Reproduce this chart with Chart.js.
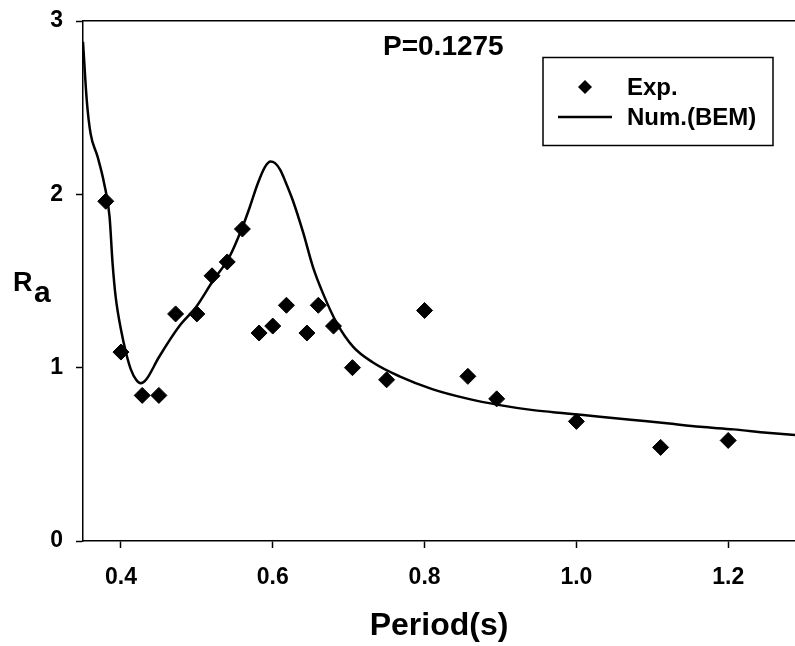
<!DOCTYPE html>
<html>
<head>
<meta charset="utf-8">
<script src="https://cdn.jsdelivr.net/npm/chart.js@4"></script>
<style>
  html, body { margin: 0; padding: 0; background: #fff; }
  #wrap { width: 795px; height: 646px; }
</style>
</head>
<body>
<div id="wrap"><canvas id="chart" width="795" height="646"></canvas></div>
<script>
// measured points (Exp.)
const expPeriod = [0.38, 0.40, 0.428, 0.45, 0.472, 0.50, 0.52, 0.54, 0.56, 0.582, 0.60,
                   0.618, 0.645, 0.66, 0.68, 0.705, 0.75, 0.80, 0.857, 0.895, 1.0, 1.111, 1.2];
const expRa = [1.96, 1.09, 0.84, 0.84, 1.31, 1.31, 1.53, 1.61, 1.80, 1.20, 1.24,
               1.36, 1.20, 1.36, 1.24, 1.00, 0.93, 1.33, 0.95, 0.82, 0.69, 0.54, 0.58];

// BEM curve
const bemPeriod = [0.350, 0.355, 0.360, 0.369, 0.378, 0.385, 0.389, 0.393, 0.400, 0.407,
                   0.413, 0.420, 0.426, 0.433, 0.450, 0.477, 0.499, 0.521, 0.543, 0.560,
                   0.570, 0.580, 0.590, 0.597, 0.603, 0.610, 0.617, 0.626, 0.640, 0.653,
                   0.666, 0.684, 0.706, 0.732, 0.767, 0.811, 0.855, 0.899, 0.943, 0.987,
                   1.031, 1.075, 1.119, 1.163, 1.207, 1.251, 1.288];
const bemRa = [2.88, 2.54, 2.35, 2.22, 2.06, 1.87, 1.60, 1.41, 1.22, 1.08,
               0.99, 0.93, 0.91, 0.93, 1.06, 1.24, 1.35, 1.50, 1.64, 1.81,
               1.93, 2.06, 2.16, 2.19, 2.18, 2.14, 2.07, 1.97, 1.78, 1.58,
               1.43, 1.26, 1.12, 1.03, 0.95, 0.875, 0.823, 0.784, 0.755, 0.736,
               0.717, 0.698, 0.679, 0.659, 0.644, 0.625, 0.611];

const xTicks = [0.4, 0.6, 0.8, 1.0, 1.2];
const yTicks = [0, 1, 2, 3];

const FONT = "'Liberation Sans', Arial, sans-serif";

// legend box, P label and the R_a axis label
const extras = {
    id: 'extras',
    afterDraw(chart) {
        const ctx = chart.ctx;
        ctx.save();
        ctx.fillStyle = '#000';
        ctx.strokeStyle = '#000';

        ctx.font = 'bold 28px ' + FONT;
        ctx.textBaseline = 'middle';
        ctx.textAlign = 'left';
        ctx.fillText('P=0.1275', 383, 47);

        // legend
        ctx.lineWidth = 1.5;
        ctx.strokeRect(543, 57.5, 230, 88);
        ctx.beginPath();
        ctx.moveTo(585, 80); ctx.lineTo(592, 87); ctx.lineTo(585, 94); ctx.lineTo(578, 87);
        ctx.closePath();
        ctx.fill();
        ctx.lineWidth = 2.5;
        ctx.beginPath();
        ctx.moveTo(558, 117); ctx.lineTo(612, 117);
        ctx.stroke();
        ctx.font = 'bold 24px ' + FONT;
        ctx.fillText('Exp.', 627, 88);
        ctx.fillText('Num.(BEM)', 627, 118);

        // R with subscript a
        ctx.textBaseline = 'alphabetic';
        ctx.font = 'bold 27px ' + FONT;
        ctx.fillText('R', 13, 291);
        ctx.font = 'bold 30px ' + FONT;
        ctx.fillText('a', 34, 302);
        ctx.restore();
    }
};

new Chart(document.getElementById('chart'), {
    type: 'scatter',
    data: {
        datasets: [{
            label: 'Exp.',
            data: expPeriod.map((x, i) => ({ x: x, y: expRa[i] })),
            pointStyle: 'rectRot',
            pointRadius: 8,
            backgroundColor: '#000',
            borderColor: '#000',
            borderWidth: 1,
            showLine: false
        }, {
            label: 'Num.(BEM)',
            data: bemPeriod.map((x, i) => ({ x: x, y: bemRa[i] })),
            showLine: true,
            pointRadius: 0,
            borderColor: '#000',
            borderWidth: 2.5,
            cubicInterpolationMode: 'monotone'
        }]
    },
    options: {
        responsive: false,
        animation: false,
        layout: { autoPadding: false, padding: { top: 21, right: 0, bottom: 0, left: 0 } },
        plugins: {
            legend: { display: false },
            tooltip: { enabled: false }
        },
        scales: {
            x: {
                type: 'linear',
                min: 0.35,
                max: 1.288,
                afterBuildTicks: s => { s.ticks = xTicks.map(v => ({ value: v })); },
                afterFit: s => { s.height = 105; s.paddingLeft = 0; s.paddingRight = 0; },
                grid: { drawOnChartArea: false, tickLength: 7, tickColor: '#000', tickWidth: 1.5 },
                border: { color: '#000', width: 1.5 },
                ticks: {
                    color: '#000',
                    padding: 16,
                    maxRotation: 0,
                    font: { family: FONT, size: 23, weight: 'bold' },
                    callback: v => v.toFixed(1)
                },
                title: {
                    display: true,
                    text: 'Period(s)',
                    color: '#000',
                    padding: { top: 0, bottom: 4 },
                    font: { family: FONT, size: 32, weight: 'bold', lineHeight: 1 }
                }
            },
            xTop: {
                type: 'linear',
                position: 'top',
                min: 0.35,
                max: 1.288,
                afterFit: s => { s.height = 0; s.paddingLeft = 0; s.paddingRight = 0; },
                grid: { display: false },
                border: { color: '#000', width: 1.5 },
                ticks: { display: false }
            },
            y: {
                min: 0,
                max: 3,
                afterBuildTicks: s => { s.ticks = yTicks.map(v => ({ value: v })); },
                afterFit: s => { s.width = 83; s.paddingTop = 0; s.paddingBottom = 0; },
                grid: { drawOnChartArea: false, tickLength: 7, tickColor: '#000', tickWidth: 1.5 },
                border: { color: '#000', width: 1.5 },
                ticks: {
                    color: '#000',
                    padding: 13,
                    font: { family: FONT, size: 23, weight: 'bold' }
                }
            }
        }
    },
    plugins: [extras]
});
</script>
</body>
</html>
